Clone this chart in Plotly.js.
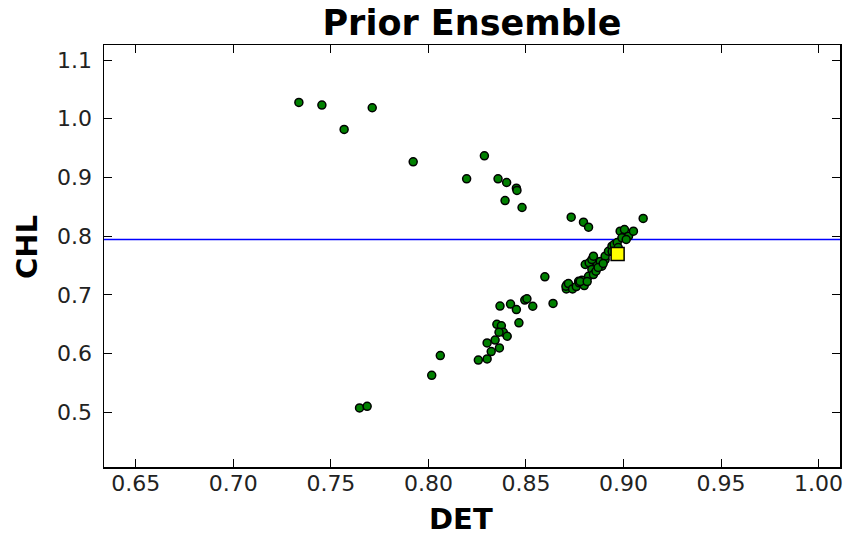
<!DOCTYPE html>
<html>
<head>
<meta charset="utf-8">
<script src="https://cdn.plot.ly/plotly-3.0.1.min.js"></script>
<style>html,body{margin:0;padding:0;background:#fff;}#chart{width:848px;height:535px;}</style>
</head>
<body>
<div id="chart"></div>
<script>
// Ensemble members: DET (x) and CHL (y)
const ensembleDET = [
  0.7336, 0.7454, 0.7568, 0.7712, 0.7922, 0.8196, 0.8287, 0.8357, 0.8401, 0.8451,
  0.8454, 0.8393, 0.8480, 0.8732, 0.8795, 0.8821, 0.9101,
  0.8597, 0.8710, 0.8707, 0.8770, 0.8367, 0.8421, 0.8451, 0.8494, 0.8505,
  0.8535, 0.8639, 0.8464, 0.8351, 0.8374, 0.8384, 0.8362, 0.8404, 0.8342,
  0.8301, 0.8364, 0.8322, 0.8256, 0.8301, 0.8061, 0.8017, 0.7647, 0.7686,
  0.8705, 0.8718, 0.8739, 0.8758, 0.8773, 0.8787, 0.8799, 0.8804, 0.8824, 0.8838,
  0.8821, 0.8846, 0.8859, 0.8864, 0.8889, 0.8906, 0.8838, 0.8846, 0.8881, 0.8906,
  0.8923, 0.8941, 0.8952, 0.8968, 0.8983, 0.9005, 0.9026, 0.8992, 0.9014, 0.9051,
  0.8973, 0.8942, 0.8870, 0.8896, 0.8778, 0.8814
];
const ensembleCHL = [
  1.0278, 1.0232, 0.9818, 1.0187, 0.9267, 0.8977, 0.9369, 0.8977, 0.8914, 0.8817,
  0.8778, 0.8607, 0.8488, 0.8323, 0.8238, 0.8152, 0.8301,
  0.7307, 0.7176, 0.7102, 0.7232, 0.6809, 0.6843, 0.6750, 0.6912, 0.6932,
  0.6806, 0.6855, 0.6523, 0.6499, 0.6474, 0.6363, 0.6363, 0.6295, 0.6230,
  0.6182, 0.6097, 0.6034, 0.5889, 0.5909, 0.5966, 0.5630, 0.5074, 0.5101,
  0.7147, 0.7193, 0.7102, 0.7142, 0.7205, 0.7249, 0.7159, 0.7517, 0.7546, 0.7431,
  0.7317, 0.7346, 0.7402, 0.7546, 0.7488, 0.7602, 0.7602, 0.7658, 0.7568, 0.7658,
  0.7743, 0.7829, 0.7858, 0.7892, 0.8084, 0.8113, 0.7999, 0.7972, 0.7943, 0.8084,
  0.7806, 0.7738, 0.7466, 0.7534, 0.7227, 0.7227
];
// Highlighted point (yellow square)
const meanDET = [0.8970];
const meanCHL = [0.7696];
// Horizontal reference line (CHL value)
const refCHL = 0.7944;

const xTicks = [0.65, 0.70, 0.75, 0.80, 0.85, 0.90, 0.95, 1.00];
const xTickText = ["0.65", "0.70", "0.75", "0.80", "0.85", "0.90", "0.95", "1.00"];
const yTicks = [0.5, 0.6, 0.7, 0.8, 0.9, 1.0, 1.1];
const yTickText = ["0.5", "0.6", "0.7", "0.8", "0.9", "1.0", "1.1"];

const font = "DejaVu Sans, sans-serif";

const traces = [
  {
    x: ensembleDET, y: ensembleCHL, type: "scatter", mode: "markers",
    marker: {color: "#008000", size: 8, symbol: "circle", line: {color: "#000000", width: 1.5}},
    hoverinfo: "skip"
  },
  {
    x: meanDET, y: meanCHL, type: "scatter", mode: "markers",
    marker: {color: "#ffff00", size: 13, symbol: "square", line: {color: "#000000", width: 1.5}},
    hoverinfo: "skip"
  }
];

const axisCommon = {
  showgrid: false, zeroline: false, showline: true, linecolor: "#000", linewidth: 1.5,
  mirror: "allticks", ticks: "inside", ticklen: 8, tickwidth: 1, tickcolor: "#000",
  tickfont: {family: font, size: 22, color: "#222"}
};

const layout = {
  width: 848, height: 535,
  margin: {l: 104, r: 8, t: 45, b: 68},
  paper_bgcolor: "#fff", plot_bgcolor: "#fff",
  showlegend: false,
  title: {text: "<b>Prior Ensemble</b>", font: {family: font, size: 35, color: "#000"},
          xref: "paper", x: 0.5, xanchor: "center", y: 0.958, yanchor: "middle"},
  xaxis: Object.assign({}, axisCommon, {
    range: [0.6337, 1.011], tickvals: xTicks, ticktext: xTickText, ticklabelstandoff: -4
  }),
  yaxis: Object.assign({}, axisCommon, {
    range: [0.4068, 1.1256], tickvals: yTicks, ticktext: yTickText, ticklabelstandoff: 6
  }),
  annotations: [
    {text: "<b>DET</b>", xref: "paper", yref: "paper", x: 0.485, y: -0.123,
     xanchor: "center", yanchor: "middle", showarrow: false,
     font: {family: font, size: 29, color: "#000"}},
    {text: "<b>CHL</b>", xref: "paper", yref: "paper", x: -0.1053, y: 0.5225,
     xanchor: "center", yanchor: "middle", showarrow: false, textangle: -90,
     font: {family: font, size: 29, color: "#000"}}
  ],
  shapes: [
    {type: "line", xref: "paper", x0: 0, x1: 1, yref: "y", y0: refCHL, y1: refCHL,
     line: {color: "#0000ff", width: 1.5}, layer: "below"}
  ]
};

Plotly.newPlot("chart", traces, layout, {staticPlot: true, displayModeBar: false});
</script>
</body>
</html>
